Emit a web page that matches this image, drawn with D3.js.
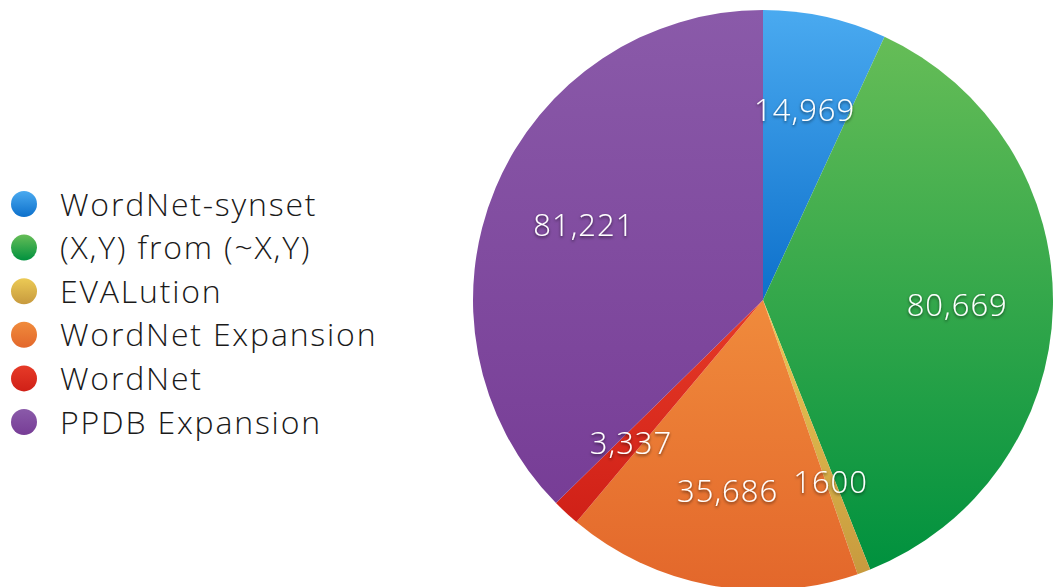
<!DOCTYPE html>
<html><head><meta charset="utf-8">
<script src="https://cdn.jsdelivr.net/npm/d3@7"></script>
<style>body{margin:0;background:#fff}svg{display:block}</style>
</head><body>
<script>
const categories = ["WordNet-synset","(X,Y) from (~X,Y)","EVALution","WordNet Expansion","WordNet","PPDB Expansion"];
const values = [14969, 80669, 1600, 35686, 3337, 81221];
const valueLabels = ["14,969","80,669","1600","35,686","3,337","81,221"];
const topColors = ["#4aaaf0","#66bd57","#ecca55","#f08b3c","#e63b28","#8a5aa9"];
const bottomColors = ["#0d70cb","#00913e","#c79a3e","#e3672b","#d02017","#773d96"];

const W = 1053, H = 587;
const svg = d3.select("body").append("svg").attr("width", W).attr("height", H);
const defs = svg.append("defs");
categories.forEach((c,i)=>{
  const g = defs.append("linearGradient").attr("id","g"+i).attr("x1",0).attr("y1",0).attr("x2",0).attr("y2",1);
  g.append("stop").attr("offset","0%").attr("stop-color",topColors[i]);
  g.append("stop").attr("offset","100%").attr("stop-color",bottomColors[i]);
});
const f = defs.append("filter").attr("id","sh").attr("x","-20%").attr("y","-40%").attr("width","140%").attr("height","180%");
f.append("feDropShadow").attr("dx",0).attr("dy",1.5).attr("stdDeviation",1.5).attr("flood-color","#000").attr("flood-opacity",0.6);

const cx = 763, cy = 300, R = 290;
const pie = d3.pie().sort(null).value(d=>d)(values);
const arc = d3.arc().innerRadius(0).outerRadius(R);
const labelArc = d3.arc().innerRadius(R*0.67).outerRadius(R*0.67);
const g = svg.append("g").attr("transform",`translate(${cx},${cy})`);
g.selectAll("path").data(pie).join("path")
  .attr("d",arc).attr("fill",(d,i)=>`url(#g${i})`);
g.selectAll("text").data(pie).join("text")
  .attr("transform",d=>`translate(${labelArc.centroid(d)})`)
  .attr("text-anchor","middle").attr("dy","0.36em")
  .attr("font-family","'Open Sans', sans-serif").attr("font-weight",300)
  .attr("font-size",31).attr("letter-spacing","1px").attr("fill","#fff").attr("filter","url(#sh)")
  .text((d,i)=>valueLabels[i]);

const legY = d3.scalePoint().domain(categories).range([204,422]);
const leg = svg.append("g");
const rows = leg.selectAll("g").data(categories).join("g")
  .attr("transform",d=>`translate(0,${legY(d)})`);
rows.append("circle").attr("cx",24).attr("cy",0).attr("r",13).attr("fill",(d,i)=>`url(#g${i})`);
rows.append("text").attr("x",60).attr("dy","0.36em")
  .attr("font-family","'Open Sans', sans-serif").attr("font-weight",300)
  .attr("font-size",32).attr("letter-spacing","1.8px").attr("fill","#1a1a1a").text(d=>d);
</script>
</body></html>
